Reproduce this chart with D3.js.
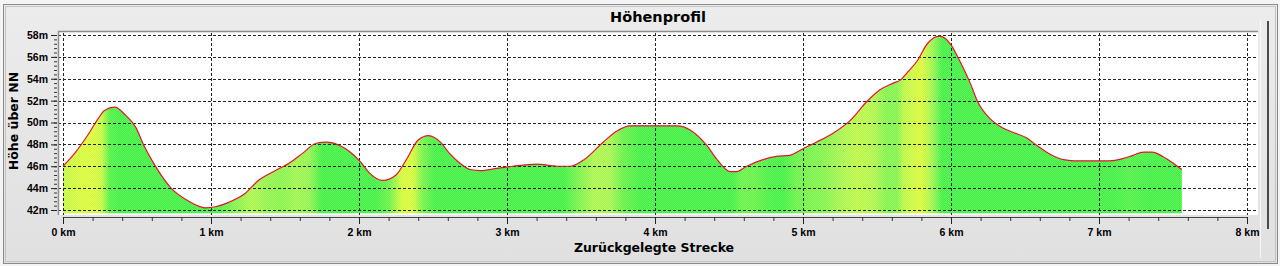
<!DOCTYPE html>
<html>
<head>
<meta charset="utf-8">
<script src="https://cdn.jsdelivr.net/npm/d3@7"></script>
<style>
  body { margin: 0; background: #e4e4e4; }
  svg { display: block; }
  text { font-family: "DejaVu Sans", sans-serif; font-weight: bold; fill: #000; }
</style>
</head>
<body>
<div id="chart"></div>
<script>
// 1: DATA
const distanceKm = [
  0.00, 0.08, 0.17, 0.24, 0.28, 0.35, 0.42, 0.49, 0.55, 0.62, 0.73, 0.85, 0.96, 1.03, 1.12, 1.23,
  1.32, 1.42, 1.53, 1.62, 1.71, 1.78, 1.87, 1.94, 2.01, 2.07, 2.16, 2.25, 2.32, 2.40, 2.47, 2.55,
  2.61, 2.68, 2.75, 2.82, 2.93, 3.04, 3.20, 3.34, 3.43, 3.52, 3.65, 3.74, 3.83, 3.97, 4.15, 4.24,
  4.35, 4.42, 4.51, 4.55, 4.62, 4.73, 4.82, 4.91, 5.00, 5.09, 5.20, 5.32, 5.43, 5.52, 5.61, 5.66,
  5.70, 5.77, 5.84, 5.92, 5.96, 6.00, 6.06, 6.13, 6.18, 6.26, 6.35, 6.44, 6.51, 6.58, 6.67, 6.76,
  6.83, 6.98, 7.07, 7.16, 7.23, 7.30, 7.36, 7.43, 7.50, 7.56
];
const elevationM = [
  46.0, 47.2, 48.9, 50.4, 51.1, 51.4, 50.7, 49.6, 47.8, 46.1, 44.0, 42.8, 42.2, 42.3, 42.7, 43.5,
  44.7, 45.5, 46.3, 47.2, 48.1, 48.2, 47.9, 47.3, 46.4, 45.4, 44.7, 45.2, 46.6, 48.4, 48.8, 48.2,
  47.2, 46.3, 45.7, 45.6, 45.8, 46.0, 46.2, 46.0, 46.0, 46.6, 48.2, 49.2, 49.7, 49.7, 49.7, 49.3,
  47.9, 46.6, 45.5, 45.5, 46.0, 46.6, 46.9, 47.0, 47.6, 48.2, 49.0, 50.2, 51.9, 53.0, 53.6, 53.9,
  54.5, 55.6, 57.2, 57.9, 57.7, 57.1, 55.6, 53.6, 51.9, 50.4, 49.5, 49.0, 48.6, 47.9, 47.1, 46.6,
  46.5, 46.5, 46.5, 46.7, 47.0, 47.3, 47.3, 46.9, 46.3, 45.7
];
const xTicksKm = [0, 1, 2, 3, 4, 5, 6, 7, 8];
const yTicksM = [42, 44, 46, 48, 50, 52, 54, 56, 58];

const titleText = "Höhenprofil";
const xTitle = "Zurückgelegte Strecke";
const yTitle = "Höhe über NN";

// 2: GLOBAL SIZES
const W = 1280, H = 266;
const plot = { left: 58, right: 1258, top: 31, bottom: 215 };

const svg = d3.select("#chart").append("svg")
  .attr("width", W).attr("height", H);

const data = distanceKm.map((d, i) => ({ km: d, m: elevationM[i] }));

// 3: SCALES
const x = d3.scaleLinear().domain([0, 8]).range([63, 1247]);
const y = d3.scaleLinear().domain([42, 58]).range([210, 35]);

// 4: PANEL BACKGROUND + FRAME
const defs = svg.append("defs");
const bg = defs.append("linearGradient").attr("id", "bg")
  .attr("x1", 0).attr("y1", 0).attr("x2", 0).attr("y2", 1);
bg.append("stop").attr("offset", "0%").attr("stop-color", "#ececec");
bg.append("stop").attr("offset", "100%").attr("stop-color", "#e0e0e0");

svg.append("rect").attr("width", W).attr("height", H).attr("fill", "#f4f4f4");
svg.append("rect").attr("x", 3.5).attr("y", 4.5).attr("width", W - 6).attr("height", H - 7)
  .attr("fill", "url(#bg)").attr("stroke", "#8a8a8a");
svg.append("rect").attr("x", 5.5).attr("y", 6.5).attr("width", W - 10).attr("height", H - 11)
  .attr("fill", "none").attr("stroke", "#c4c4c4");
svg.append("line").attr("x1", 1260.5).attr("x2", 1260.5).attr("y1", 20).attr("y2", 258)
  .attr("stroke", "#f8f8f8");
svg.append("rect").attr("x", 1267).attr("y", 21).attr("width", 2).attr("height", 208)
  .attr("fill", "#4a4a4a");

// plot area
svg.append("rect")
  .attr("x", plot.left).attr("y", plot.top)
  .attr("width", plot.right - plot.left).attr("height", plot.bottom - plot.top)
  .attr("fill", "#fff");

// 5: AREA FILL, coloured by uphill slope (smoothed a little)
const slopeColor = d3.scaleLinear()
  .domain([3, 10, 19])
  .range(["#3ef03e", "#a4f44a", "#d8fa34"])
  .clamp(true);

const span = d3.max(distanceKm);
const slopes = [];
for (let i = 1; i < data.length; i++) {
  const a = data[i - 1], b = data[i];
  slopes.push({ km: (a.km + b.km) / 2, s: (b.m - a.m) / (b.km - a.km) });
}
const smoothed = slopes.map((d, i) => {
  const win = slopes.slice(Math.max(0, i - 1), i + 2);
  return { km: d.km, s: 0.5 * d.s + 0.5 * d3.mean(win, w => w.s) };
});

const fillGrad = defs.append("linearGradient").attr("id", "fillGrad")
  .attr("gradientUnits", "userSpaceOnUse")
  .attr("x1", x(0)).attr("x2", x(span)).attr("y1", 0).attr("y2", 0);
fillGrad.selectAll("stop").data(smoothed).enter().append("stop")
  .attr("offset", d => (d.km / span * 100) + "%")
  .attr("stop-color", d => slopeColor(d.s));

const hatch = defs.append("pattern").attr("id", "hatch")
  .attr("patternUnits", "userSpaceOnUse").attr("width", 2).attr("height", 2);
hatch.append("rect").attr("width", 1).attr("height", 1).attr("fill", "#fff").attr("opacity", 0.2);
hatch.append("rect").attr("x", 1).attr("y", 1).attr("width", 1).attr("height", 1).attr("fill", "#fff").attr("opacity", 0.2);

const baseM = 41.7;
const area = d3.area()
  .x(d => x(d.km))
  .y0(y(baseM))
  .y1(d => y(d.m))
  .curve(d3.curveMonotoneX);

svg.append("path").datum(data).attr("d", area).attr("fill", "url(#fillGrad)");
svg.append("path").datum(data).attr("d", area).attr("fill", "url(#hatch)");

// 6: GRID (dashed, on top of fill)
const grid = svg.append("g").attr("stroke", "#000").attr("stroke-dasharray", "3,2")
  .attr("stroke-width", 1).attr("opacity", 0.85);
grid.selectAll(".h").data(yTicksM).enter().append("line")
  .attr("x1", plot.left).attr("x2", plot.right - 1)
  .attr("y1", d => Math.round(y(d)) + 0.5).attr("y2", d => Math.round(y(d)) + 0.5);
grid.selectAll(".v").data(xTicksKm).enter().append("line")
  .attr("x1", d => Math.round(x(d)) + 0.5).attr("x2", d => Math.round(x(d)) + 0.5)
  .attr("y1", plot.top + 2).attr("y2", plot.bottom);

// line
const line = d3.line().x(d => x(d.km)).y(d => y(d.m)).curve(d3.curveMonotoneX);
svg.append("path").datum(data).attr("d", line)
  .attr("fill", "none").attr("stroke", "#e8132b").attr("stroke-width", 1.2);

// plot frame (top + left)
svg.append("path")
  .attr("d", `M${plot.left + 0.5},${plot.bottom}V${plot.top + 0.5}H${plot.right}`)
  .attr("fill", "none").attr("stroke", "#8c8c8c").attr("stroke-width", 1.5);

// 7: AXES
const tickFont = "'Liberation Sans', Arial, sans-serif";

const yAxis = svg.append("g").attr("transform", `translate(${plot.left - 1},0)`);
yAxis.call(d3.axisLeft(y).tickValues(d3.range(42, 58.01, 0.4)).tickSize(3).tickFormat(""));
yAxis.call(g => g.select(".domain").remove());
yAxis.selectAll(".tick line").attr("stroke", "#333");
const yMajor = svg.append("g").attr("transform", `translate(${plot.left - 1},0)`)
  .call(d3.axisLeft(y).tickValues(yTicksM).tickSize(6).tickPadding(3).tickFormat(d => d + "m"));
yMajor.select(".domain").remove();
yMajor.selectAll(".tick line").attr("stroke", "#222");
yMajor.selectAll("text").style("font-size", "10.5px").style("font-family", tickFont);

const xMinor = svg.append("g").attr("transform", `translate(0,${plot.bottom + 2})`)
  .call(d3.axisBottom(x).tickValues(d3.range(0, 8.01, 0.2)).tickSize(4).tickSizeOuter(0).tickFormat(""));
xMinor.select(".domain").attr("stroke", "#444");
xMinor.selectAll(".tick line").attr("stroke", "#333");
const xMajor = svg.append("g").attr("transform", `translate(0,${plot.bottom + 2})`)
  .call(d3.axisBottom(x).tickValues(xTicksKm).tickSize(7).tickPadding(5).tickFormat(d => d + " km"));
xMajor.select(".domain").remove();
xMajor.selectAll(".tick line").attr("stroke", "#222");
xMajor.selectAll("text").style("font-size", "10.5px").style("font-family", tickFont);

// 8: TITLES
svg.append("text").attr("x", 658).attr("y", 22).attr("text-anchor", "middle")
  .style("font-size", "14.5px").text(titleText);
svg.append("text").attr("x", 654).attr("y", 252).attr("text-anchor", "middle")
  .style("font-size", "12.5px").text(xTitle);
svg.append("text").attr("transform", "translate(18,121) rotate(-90)").attr("text-anchor", "middle")
  .style("font-size", "12.5px").text(yTitle);
</script>
</body>
</html>
